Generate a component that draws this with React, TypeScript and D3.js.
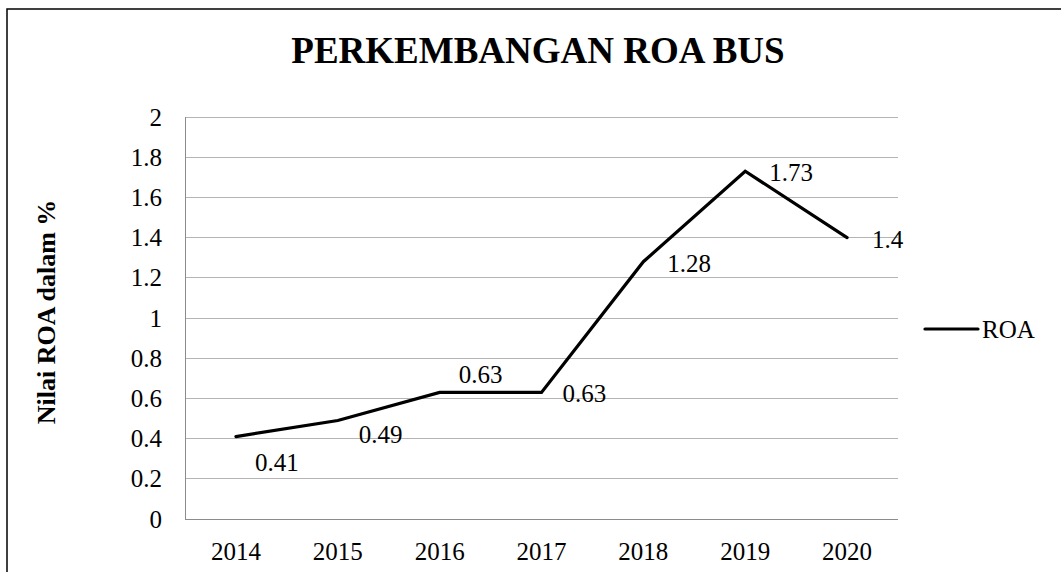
import React from "react";
import * as d3 from "d3";

const categories = ["2014", "2015", "2016", "2017", "2018", "2019", "2020"];
const roaValues = [0.41, 0.49, 0.63, 0.63, 1.28, 1.73, 1.4];
const yTicks = [0, 0.2, 0.4, 0.6, 0.8, 1, 1.2, 1.4, 1.6, 1.8, 2];
const seriesName = "ROA";
const title = "PERKEMBANGAN ROA BUS";
const yAxisTitle = "Nilai ROA dalam %";

// label placement offsets (dx, dy from point to label's left/baseline)
const labelOffsets: [number, number][] = [
  [19, 34],
  [21, 22],
  [19, -9],
  [21, 10],
  [24, 10],
  [24, 10],
  [25, 10],
];

const W = 1061;
const H = 572;
const FONT = "Liberation Serif, Times New Roman, Times, serif";
const plot = { left: 185, right: 898, top: 117, bottom: 519 };

const txt = (size: number, bold = false): React.CSSProperties => ({
  fontFamily: FONT,
  fontSize: size,
  fontWeight: bold ? 700 : 400,
});

export default function App() {
  const x = d3
    .scaleBand<string>()
    .domain(categories)
    .range([plot.left, plot.right])
    .paddingInner(0)
    .paddingOuter(0);
  const y = d3.scaleLinear().domain([0, 2]).range([plot.bottom, plot.top]);
  const cx = (c: string) => (x(c) ?? 0) + x.bandwidth() / 2;

  const line = d3
    .line<number>()
    .x((_, i) => cx(categories[i]))
    .y((d) => y(d));

  const fmt = (v: number) => String(v);

  return (
    <svg
      width={W}
      height={H}
      style={{ position: "absolute", left: 0, top: 0, background: "#fff" }}
    >
      <rect x={0} y={0} width={W} height={H} fill="#fff" />
      <rect
        x={7}
        y={9}
        width={W + 20}
        height={H + 20}
        fill="#fff"
        stroke="#000"
        strokeWidth={1.5}
      />
      <text x={538} y={63} textAnchor="middle" style={txt(37, true)} fill="#000">
        {title}
      </text>

      {/* gridlines */}
      {yTicks.map((t) => (
        <line
          key={"g" + t}
          x1={plot.left}
          x2={plot.right}
          y1={y(t)}
          y2={y(t)}
          stroke={t === 0 ? "#8c8c8c" : "#b4b4b4"}
          strokeWidth={1}
          shapeRendering="crispEdges"
        />
      ))}
      <line
        x1={plot.left}
        x2={plot.left}
        y1={plot.top}
        y2={plot.bottom}
        stroke="#8c8c8c"
        strokeWidth={1}
        shapeRendering="crispEdges"
      />

      {/* y tick labels */}
      {yTicks.map((t) => (
        <text key={"yt" + t} x={162} y={y(t) + 8.5} textAnchor="end" style={txt(25)} fill="#000">
          {fmt(t)}
        </text>
      ))}

      {/* x tick labels */}
      {categories.map((c) => (
        <text key={"xt" + c} x={cx(c)} y={560} textAnchor="middle" style={txt(25)} fill="#000">
          {c}
        </text>
      ))}

      {/* y axis title */}
      <text
        transform={`translate(55, 312) rotate(-90)`}
        textAnchor="middle"
        style={txt(26, true)}
        fill="#000"
      >
        {yAxisTitle}
      </text>

      {/* series line */}
      <path
        d={line(roaValues) ?? ""}
        fill="none"
        stroke="#000"
        strokeWidth={3.2}
        strokeLinejoin="miter"
        strokeLinecap="round"
      />

      {/* data labels */}
      {roaValues.map((v, i) => (
        <text
          key={"dl" + i}
          x={cx(categories[i]) + labelOffsets[i][0]}
          y={y(v) + labelOffsets[i][1]}
          style={txt(25)}
          fill="#000"
        >
          {fmt(v)}
        </text>
      ))}

      {/* legend */}
      <line x1={925} x2={978} y1={329} y2={329} stroke="#000" strokeWidth={3.2} strokeLinecap="round" />
      <text x={982} y={338} style={txt(25)} fill="#000">
        {seriesName}
      </text>
    </svg>
  );
}
